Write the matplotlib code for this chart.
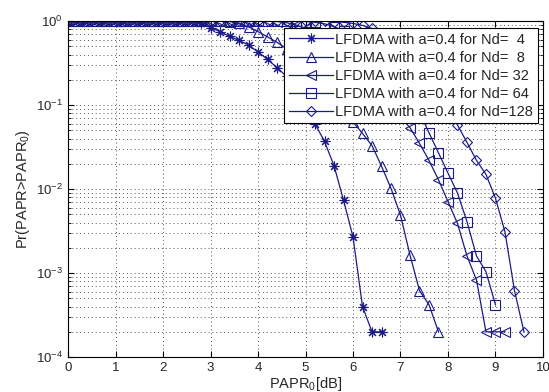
import matplotlib
matplotlib.use("Agg")
import matplotlib.pyplot as plt
from matplotlib.ticker import LogLocator, NullFormatter, MultipleLocator

plt.rcParams['font.family'] = ['Liberation Sans', 'DejaVu Sans']
plt.rcParams['mathtext.default'] = 'regular'

# PAPR0 grid [dB]
papr0 = [0.0, 0.2, 0.4, 0.6, 0.8, 1.0, 1.2, 1.4, 1.6, 1.8,
         2.0, 2.2, 2.4, 2.6, 2.8, 3.0, 3.2, 3.4, 3.6, 3.8,
         4.0, 4.2, 4.4, 4.6, 4.8, 5.0, 5.2, 5.4, 5.6, 5.8,
         6.0, 6.2, 6.4, 6.6, 6.8, 7.0, 7.2, 7.4, 7.6, 7.8,
         8.0, 8.2, 8.4, 8.6, 8.8, 9.0, 9.2, 9.4, 9.6]

ccdf_nd4 = [1, 1, 1, 1, 1, 1, 1, 1, 1, 1,
            1, 1, 1, 0.995, 0.94, 0.84, 0.75, 0.66, 0.59, 0.52,
            0.43, 0.35, 0.28, 0.22, 0.16, 0.105, 0.060, 0.037, 0.019, 0.0074,
            0.0027, 0.0004, 0.0002, 0.0002]

ccdf_nd8 = [1, 1, 1, 1, 1, 1, 1, 1, 1, 1,
            1, 1, 1, 1, 1, 1, 0.998, 0.99, 0.95, 0.855,
            0.75, 0.65, 0.56, 0.47, 0.38, 0.30, 0.23, 0.17, 0.125, 0.088,
            0.063, 0.046, 0.033, 0.0188, 0.0102, 0.0049, 0.00164, 0.00062, 0.00042, 0.0002]

ccdf_nd32 = [1, 1, 1, 1, 1, 1, 1, 1, 1, 1,
             1, 1, 1, 1, 1, 1, 1, 1, 1, 1,
             1, 1, 0.99, 0.96, 0.90, 0.82, 0.72, 0.62, 0.51, 0.41,
             0.32, 0.24, 0.18, 0.13, 0.095, 0.072, 0.054, 0.035, 0.022, 0.0129,
             0.0071, 0.0039, 0.0016, 0.00083, 0.0002, 0.0002, 0.0002]

ccdf_nd64 = [1, 1, 1, 1, 1, 1, 1, 1, 1, 1,
             1, 1, 1, 1, 1, 1, 1, 1, 1, 1,
             1, 1, 1, 1, 1, 0.99, 0.97, 0.93, 0.86, 0.77,
             0.67, 0.56, 0.45, 0.35, 0.26, 0.19, 0.13, 0.082, 0.047, 0.027,
             0.0155, 0.009, 0.0041, 0.0016, 0.00104, 0.00042]

ccdf_nd128 = [1, 1, 1, 1, 1, 1, 1, 1, 1, 1,
              1, 1, 1, 1, 1, 1, 1, 1, 1, 1,
              1, 1, 1, 1, 1, 1, 1, 1, 0.99, 0.97,
              0.94, 0.89, 0.82, 0.72, 0.61, 0.50, 0.39, 0.29, 0.21, 0.145,
              0.095, 0.058, 0.036, 0.022, 0.015, 0.0078, 0.0031, 0.00062, 0.0002]

labels = ['LFDMA with a=0.4 for Nd=  4',
          'LFDMA with a=0.4 for Nd=  8',
          'LFDMA with a=0.4 for Nd= 32',
          'LFDMA with a=0.4 for Nd= 64',
          'LFDMA with a=0.4 for Nd=128']

series = [ccdf_nd4, ccdf_nd8, ccdf_nd32, ccdf_nd64, ccdf_nd128]
markers = [(8, 2, 0), '^', '<', 's', 'D']
msizes = [7, 7, 7, 6.5, 5.5]

col = '#1a1a88'
txt = '#262626'

fig = plt.figure(figsize=(5.49, 3.92), dpi=100)
ax = fig.add_axes([0.124, 0.089, 0.865, 0.857])

for ys, m, ms, lab in zip(series, markers, msizes, labels):
    xs = papr0[:len(ys)]
    ax.semilogy(xs, ys, color=col, lw=0.9, marker=m, markersize=ms,
                markerfacecolor='none' if m != (8, 2, 0) else col,
                markeredgecolor=col, markeredgewidth=0.8, label=lab)

ax.set_xlim(0, 10)
ax.set_ylim(1e-4, 1)
ax.xaxis.set_major_locator(MultipleLocator(1))
ax.yaxis.set_major_locator(LogLocator(base=10, numticks=10))
ax.yaxis.set_minor_locator(LogLocator(base=10, subs=range(2, 10), numticks=20))
ax.yaxis.set_minor_formatter(NullFormatter())

ax.grid(True, which='major', axis='both', linestyle=(0, (1, 3)), color='#555555', lw=0.7)
ax.grid(True, which='minor', axis='y', linestyle=(0, (1, 3)), color='#555555', lw=0.7)

ax.tick_params(which='both', direction='in', top=True, right=True, colors='black',
               labelcolor=txt, labelsize=9.5)
ax.tick_params(which='major', length=4)
ax.tick_params(which='minor', length=2.5)
for s in ax.spines.values():
    s.set_color('black')
    s.set_linewidth(0.8)

ax.set_xlabel('PAPR$_0$[dB]', fontsize=10.5, color=txt, labelpad=1)
ax.set_ylabel('Pr(PAPR>PAPR$_0$)', fontsize=10.5, color=txt, labelpad=3)

leg = ax.legend(loc='upper right', bbox_to_anchor=(0.989, 0.979), fontsize=10.5,
                handlelength=3.0, handletextpad=0.2, labelspacing=0.28,
                borderpad=0.3, borderaxespad=0, fancybox=False, framealpha=1,
                edgecolor='black')
leg.get_frame().set_linewidth(0.8)
for t in leg.get_texts():
    t.set_color(txt)

fig.savefig('out.png', dpi=100)
